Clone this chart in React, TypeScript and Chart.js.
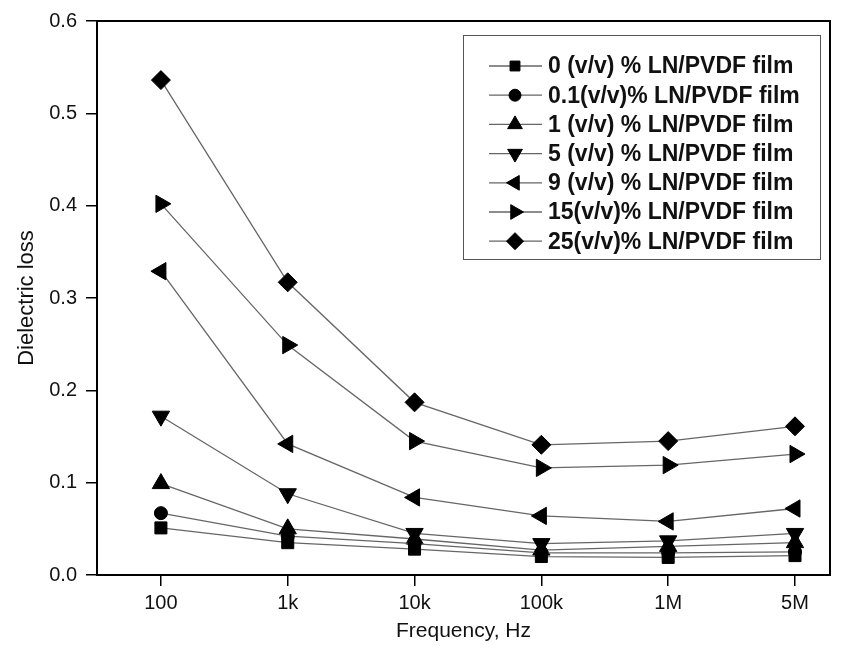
import React, { useEffect, useRef } from "react";
import { Chart, registerables } from "chart.js";
import { drawPoint } from "chart.js/helpers";

Chart.register(...registerables);

const categories = ["100", "1k", "10k", "100k", "1M", "5M"];
const yTicks = [0, 0.1, 0.2, 0.3, 0.4, 0.5, 0.6];

const s0 = [0.051, 0.035, 0.028, 0.020, 0.019, 0.021];
const s01 = [0.067, 0.042, 0.034, 0.024, 0.024, 0.025];
const s1 = [0.099, 0.050, 0.039, 0.027, 0.031, 0.035];
const s5 = [0.172, 0.088, 0.045, 0.034, 0.037, 0.045];
const s9 = [0.329, 0.142, 0.084, 0.064, 0.058, 0.072];
const s15 = [0.402, 0.249, 0.145, 0.116, 0.119, 0.131];
const s25 = [0.536, 0.317, 0.187, 0.141, 0.145, 0.161];

const labels = [
  "0 (v/v) % LN/PVDF film",
  "0.1(v/v)% LN/PVDF film",
  "1 (v/v) % LN/PVDF film",
  "5 (v/v) % LN/PVDF film",
  "9 (v/v) % LN/PVDF film",
  "15(v/v)% LN/PVDF film",
  "25(v/v)% LN/PVDF film",
];

const seriesList = [s0, s01, s1, s5, s9, s15, s25];
const styles: { pointStyle: any; rotation: number; radius: number; legendRadius: number }[] = [
  { pointStyle: "rect", rotation: 0, radius: 8.5, legendRadius: 7 },
  { pointStyle: "circle", rotation: 0, radius: 6.5, legendRadius: 6 },
  { pointStyle: "triangle", rotation: 0, radius: 10, legendRadius: 8.5 },
  { pointStyle: "triangle", rotation: 180, radius: 10, legendRadius: 8.5 },
  { pointStyle: "triangle", rotation: 270, radius: 10, legendRadius: 8.5 },
  { pointStyle: "triangle", rotation: 90, radius: 10, legendRadius: 8.5 },
  { pointStyle: "rectRot", rotation: 0, radius: 9.5, legendRadius: 8.5 },
];

const FONT = "'Liberation Sans', Arial, sans-serif";

const framePlugin = {
  id: "frameAndLegend",
  afterDraw(chart: any) {
    const { ctx, chartArea } = chart;
    ctx.save();
    ctx.strokeStyle = "#000";
    ctx.lineWidth = 2;
    ctx.strokeRect(chartArea.left, chartArea.top, chartArea.right - chartArea.left, chartArea.bottom - chartArea.top);

    // legend
    const bx = chartArea.right - 367;
    const by = chartArea.top + 14;
    const bw = 357;
    const bh = 224;
    ctx.lineWidth = 1;
    ctx.strokeStyle = "#555";
    ctx.fillStyle = "#fff";
    ctx.fillRect(bx, by, bw, bh);
    ctx.strokeRect(bx + 0.5, by + 0.5, bw, bh);
    ctx.font = `bold 23px ${FONT}`;
    ctx.textBaseline = "middle";
    chart.data.datasets.forEach((ds: any, i: number) => {
      const y = by + 31 + i * 29.2;
      ctx.strokeStyle = "#666";
      ctx.lineWidth = 1.3;
      ctx.beginPath();
      ctx.moveTo(bx + 26, y);
      ctx.lineTo(bx + 79, y);
      ctx.stroke();
      ctx.fillStyle = "#000";
      ctx.strokeStyle = "#000";
      ctx.lineWidth = 1;
      drawPoint(ctx, { pointStyle: ds.pointStyle, rotation: ds.pointRotation, radius: styles[i].legendRadius, borderWidth: 1 }, bx + 52, y);
      ctx.fillStyle = "#111";
      ctx.fillText(ds.label, bx + 85, y + 1);
    });
    ctx.restore();
  },
};

export default function App() {
  const ref = useRef<HTMLCanvasElement>(null);
  useEffect(() => {
    document.body.style.margin = "0";
    const datasets = seriesList.map((s, i) => ({
      label: labels[i],
      data: s.map((v, j) => ({ x: j, y: v })),
      borderColor: "#666",
      borderWidth: 1.3,
      backgroundColor: "#000",
      pointBackgroundColor: "#000",
      pointBorderColor: "#000",
      pointBorderWidth: 1,
      pointStyle: styles[i].pointStyle,
      pointRotation: styles[i].rotation,
      pointRadius: styles[i].radius,
      fill: false,
      tension: 0,
    }));
    const chart = new Chart(ref.current!, {
      type: "line",
      data: { datasets },
      plugins: [framePlugin],
      options: {
        animation: false,
        responsive: false,
        layout: { padding: { top: 21, right: 16, left: 0, bottom: 0 } },
        plugins: { legend: { display: false }, tooltip: { enabled: false } },
        scales: {
          x: {
            type: "linear",
            min: -0.504,
            max: 5.276,
            afterBuildTicks: (scale: any) => {
              scale.ticks = categories.map((_, i) => ({ value: i }));
            },
            afterFit: (scale: any) => {
              scale.height = 78;
            },
            grid: { drawOnChartArea: false, tickLength: 11, color: "#000", lineWidth: 1.5 },
            border: { display: true, color: "#000", width: 2 },
            ticks: {
              color: "#111",
              font: { family: FONT, size: 20 },
              padding: 5,
              maxRotation: 0,
              autoSkip: false,
              callback: (v: any) => categories[Math.round(v)] ?? "",
            },
            title: {
              display: true,
              text: "Frequency, Hz",
              color: "#111",
              font: { family: FONT, size: 21 },
              padding: { top: 4, bottom: 9 },
            },
          },
          y: {
            type: "linear",
            min: 0,
            max: 0.6,
            afterBuildTicks: (scale: any) => {
              scale.ticks = yTicks.map((v) => ({ value: v }));
            },
            afterFit: (scale: any) => {
              scale.width = 97;
            },
            grid: { drawOnChartArea: false, tickLength: 11, color: "#000", lineWidth: 1.5 },
            border: { display: true, color: "#000", width: 2 },
            ticks: {
              color: "#111",
              font: { family: FONT, size: 20 },
              padding: 9,
              callback: (v: any) => Number(v).toFixed(1),
            },
            title: {
              display: true,
              text: "Dielectric loss",
              color: "#111",
              font: { family: FONT, size: 22 },
              padding: { top: 14, bottom: 0 },
            },
          },
        },
      } as any,
    });
    return () => chart.destroy();
  }, []);
  return (
    <div style={{ width: 846, height: 653, background: "#fff" }}>
      <canvas ref={ref} width={846} height={653} style={{ display: "block" }} />
    </div>
  );
}
